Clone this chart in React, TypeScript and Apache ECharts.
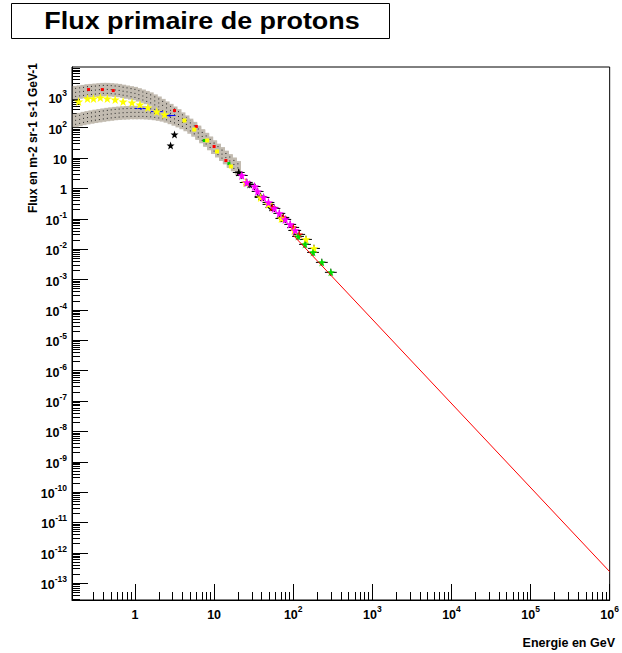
import React, { useEffect, useRef } from 'react';
import * as echarts from 'echarts';

const FONT = '"Liberation Sans", Arial, Helvetica, sans-serif';

// ---------- axes ----------
const xMin = 0.16;
const xMax = 1.00001e6;
const yMin = 2.8e-14;
const yMax = 1e4;
const xMajorTicks = [1, 10, 100, 1e3, 1e4, 1e5, 1e6];
const yMajorTicks = [1e-13, 1e-12, 1e-11, 1e-10, 1e-9, 1e-8, 1e-7, 1e-6, 1e-5, 1e-4, 1e-3, 1e-2, 1e-1, 1, 10, 100, 1e3];
const minorMultipliers = [2, 3, 4, 5, 6, 7, 8, 9];
const xDecades = [0.1, 1, 10, 100, 1e3, 1e4, 1e5];
const yDecades = [1e-14, 1e-13, 1e-12, 1e-11, 1e-10, 1e-9, 1e-8, 1e-7, 1e-6, 1e-5, 1e-4, 1e-3, 1e-2, 1e-1, 1, 10, 100, 1e3];
const xMinorStart = 0.25;

// ---------- data (GeV, m-2 sr-1 s-1 GeV-1) ----------
const bandEnergy = [0.178, 0.2, 0.224, 0.251, 0.282, 0.316, 0.355, 0.398, 0.447, 0.501, 0.562, 0.631, 0.708, 0.794, 0.891, 1.0, 1.12, 1.26, 1.41, 1.58, 1.78, 2.0, 2.24, 2.51, 2.82, 3.16, 3.55, 3.98, 4.47, 5.01, 5.62, 6.31, 7.08, 7.94, 8.91, 10.0, 11.2, 12.6, 14.1, 15.8, 17.8, 20.0];
const bandFluxHigh = [1439, 1494, 1552, 1636, 1674, 1713, 1766, 1806, 1806, 1766, 1725, 1674, 1575, 1494, 1406, 1334, 1208, 1094, 984, 879, 755, 644, 537, 444, 368, 302, 246, 193, 153, 120, 94, 71, 54, 41, 31, 23, 18, 13.8, 10.6, 8.1, 6.3, 4.8];
const bandFluxLow = [173, 186, 201, 213, 225, 237, 248, 260, 272, 282, 293, 300, 307, 311, 316, 316, 316, 316, 311, 305, 293, 280, 264, 243, 217, 193, 170, 148, 127, 105, 84, 66, 51, 39, 30, 22.7, 17.4, 13.3, 10.3, 7.9, 6.1, 4.7];

const yellowLowE = [0.194, 0.251, 0.299, 0.365, 0.447, 0.562, 0.708, 0.917, 1.155, 1.455, 1.884, 2.371];
const yellowLowF = [728, 914, 914, 985, 914, 847, 728, 675, 579, 462, 341, 272];
const yellowSmallE = [4.22, 5.62, 8.18, 10.9, 16.3];
const yellowSmallF = [173, 87, 38, 16.5, 5.3];
const yellowHighE = [25.1, 38.7, 48.7, 70.8, 103, 145, 183];
const yellowHighF = [1.57, 0.506, 0.298, 0.103, 0.0415, 0.021, 0.0106];

const magentaE = [22.4, 25.9, 32.5, 35.5, 42.2, 48.7, 57.9, 66.8, 79.4, 91.7, 106];
const magentaF = [2.68, 1.58, 1.16, 0.797, 0.506, 0.346, 0.22, 0.151, 0.0955, 0.0655, 0.0415];

const blackHighE = [20.5, 28.2, 38.7, 53.1, 72.9];
const blackHighF = [3.36, 1.35, 0.546, 0.237, 0.103];
const blackLowE = [2.82, 3.16];
const blackLowF = [26, 60];

const greenE = [115, 141, 178, 230, 299];
const greenF = [0.0264, 0.0144, 0.00785, 0.00368, 0.00173];
const greenSmallE = [7.5, 15.4];
const greenSmallF = [38, 6.6];

const redStarE = [54.6, 75, 100, 119];
const redStarF = [0.237, 0.111, 0.0521, 0.0307];
const redSmallE = [0.259, 0.387, 0.531, 3.16, 5.96, 10, 14.1];
const redSmallF = [1806, 1806, 1674, 368, 110, 24.1, 8.3];

const blueE = [1.19, 1.88, 2.74];
const blueF = [428, 341, 252];

const fitE = [100, 1e6];
const fitF = [0.0288, 2.4e-13];

// ---------- styles ----------
const BAND_ERR = Math.pow(10, 0.22);
const X_ERR = Math.pow(10, 0.075);
const Y_ERR = Math.pow(10, 0.12);
const GRAY = '#c2bbb0';
const STAR = 'path://M0,-10L2.35,-3.24L9.51,-3.09L3.8,1.24L5.88,8.09L0,4L-5.88,8.09L-3.8,1.24L-9.51,-3.09L-2.35,-3.24Z';

const zip = (xs: number[], ys: number[]) => xs.map((x, i) => [x, ys[i]]);

const minorTicks = (decades: number[], lo: number, hi: number) => {
  const out: number[] = [];
  decades.forEach((d) => minorMultipliers.forEach((m) => {
    const v = d * m;
    if (v > lo && v < hi) out.push(v);
  }));
  return out;
};

const fmt = (v: number) => {
  const n = Math.round(Math.log10(v));
  if (n === 0) return '{b|1}';
  if (n === 1) return '{b|10}';
  return '{b|10}{s|' + n + '}';
};

const labelRich = {
  b: { fontSize: 12.5, fontWeight: 'bold', fontFamily: FONT, color: '#000', lineHeight: 17, verticalAlign: 'bottom' },
  s: { fontSize: 8.5, fontWeight: 'bold', fontFamily: FONT, color: '#000', lineHeight: 9, verticalAlign: 'top' },
};

function bandSeries(name: string, E: number[], F: number[]) {
  return {
    type: 'custom', name, silent: true, z: 2,
    data: zip(E, F),
    renderItem: (_p: any, api: any) => {
      const e = api.value(0);
      const f = api.value(1);
      const hi = api.coord([e, f * BAND_ERR]);
      const lo = api.coord([e, f / BAND_ERR]);
      return {
        type: 'group',
        children: [
          { type: 'rect', shape: { x: hi[0] - 3, y: hi[1], width: 6, height: lo[1] - hi[1] }, style: { fill: GRAY } },
          { type: 'line', shape: { x1: hi[0], y1: hi[1] + 2, x2: hi[0], y2: lo[1] - 2 }, style: { stroke: '#222', lineWidth: 1, lineDash: [1, 3] } },
        ],
      };
    },
  };
}

function errorSeries(E: number[], F: number[], color: string, vertical: boolean) {
  return {
    type: 'custom', silent: true, z: 3,
    data: zip(E, F),
    renderItem: (_p: any, api: any) => {
      const e = api.value(0);
      const f = api.value(1);
      const l = api.coord([e / X_ERR, f]);
      const r = api.coord([e * X_ERR, f]);
      const t = api.coord([e, f * Y_ERR]);
      const b = api.coord([e, f / Y_ERR]);
      const children: any[] = [
        { type: 'line', shape: { x1: l[0], y1: l[1], x2: r[0], y2: r[1] }, style: { stroke: color, lineWidth: 1 } },
      ];
      if (vertical) children.push({ type: 'line', shape: { x1: t[0], y1: t[1], x2: b[0], y2: b[1] }, style: { stroke: color, lineWidth: 1 } });
      return { type: 'group', children };
    },
  };
}

function markers(E: number[], F: number[], color: string, size: number, symbol = STAR) {
  return {
    type: 'scatter', silent: true, z: 4,
    data: zip(E, F),
    symbol, symbolSize: size,
    itemStyle: { color, opacity: 1 },
  };
}

const baseAxis = (min: number, max: number) => ({
  type: 'log', logBase: 10, min, max,
  splitLine: { show: false },
  minorTick: { show: false },
  minorSplitLine: { show: false },
});

export default function App() {
  const ref = useRef<HTMLDivElement>(null);
  useEffect(() => {
    if (!ref.current) return;
    const chart = echarts.init(ref.current, null, { renderer: 'svg' });
    const xMinor = minorTicks(xDecades, xMinorStart, xMax);
    const yMinor = minorTicks(yDecades, yMin, yMax);
    chart.setOption({
      animation: false,
      backgroundColor: '#fff',
      grid: { left: 72, right: 7, top: 67, bottom: 53, show: true, borderColor: '#000', borderWidth: 1, backgroundColor: 'transparent' },
      xAxis: [
        {
          ...baseAxis(xMin, xMax), position: 'bottom',
          axisLine: { show: true, lineStyle: { color: '#000', width: 1 } },
          axisTick: { show: true, inside: true, length: 16, customValues: xMajorTicks, lineStyle: { color: '#000', width: 1 } },
          axisLabel: { show: true, customValues: xMajorTicks, formatter: fmt, rich: labelRich, fontWeight: 'bold', margin: 4, showMinLabel: true, showMaxLabel: true },
        },
        {
          ...baseAxis(xMin, xMax), position: 'bottom',
          axisLine: { show: false },
          axisTick: { show: true, inside: true, length: 8, customValues: xMinor, lineStyle: { color: '#000', width: 1 } },
          axisLabel: { show: false },
        },
      ],
      yAxis: [
        {
          ...baseAxis(yMin, yMax), position: 'left',
          axisLine: { show: true, lineStyle: { color: '#000', width: 1 } },
          axisTick: { show: true, inside: true, length: 16, customValues: yMajorTicks, lineStyle: { color: '#000', width: 1 } },
          axisLabel: { show: true, customValues: yMajorTicks, formatter: fmt, rich: labelRich, fontWeight: 'bold', margin: 5 },
        },
        {
          ...baseAxis(yMin, yMax), position: 'left',
          axisLine: { show: false },
          axisTick: { show: true, inside: true, length: 8, customValues: yMinor, lineStyle: { color: '#000', width: 1 } },
          axisLabel: { show: false },
        },
      ],
      series: [
        bandSeries('solar minimum', bandEnergy, bandFluxHigh),
        bandSeries('solar maximum', bandEnergy, bandFluxLow),
        errorSeries(blueE, blueF, '#0000ff', false),
        errorSeries(magentaE, magentaF, '#000', true),
        errorSeries(blackHighE, blackHighF, '#000', true),
        errorSeries(greenE, greenF, '#000', true),
        errorSeries(yellowHighE, yellowHighF, '#000', true),
        errorSeries(redStarE, redStarF, '#000', true),
        markers(redSmallE, redSmallF, '#ff0000', 3, 'rect'),
        markers(greenSmallE, greenSmallF, '#00cc00', 3, 'rect'),
        markers(yellowSmallE, yellowSmallF, '#ffff00', 4, 'rect'),
        markers(blueE, blueF, '#0000ff', 2, 'rect'),
        markers(yellowLowE, yellowLowF, '#ffff00', 9),
        markers(blackLowE, blackLowF, '#000', 8),
        markers(blackHighE, blackHighF, '#000', 8),
        markers(redStarE, redStarF, '#ff0000', 8),
        markers(yellowHighE, yellowHighF, '#ffff00', 9),
        markers(magentaE, magentaF, '#ff00ff', 9),
        markers(greenE, greenF, '#00dd00', 8),
        {
          type: 'line', silent: true, z: 5,
          data: zip(fitE, fitF),
          symbol: 'none',
          lineStyle: { color: '#ff0000', width: 1 },
        },
      ],
      graphic: [
        { type: 'rect', shape: { x: 11.5, y: 3.5, width: 378, height: 35 }, style: { fill: '#fff', stroke: '#000', lineWidth: 1 } },
        {
          type: 'text', x: 202, y: 21, scaleX: 1.17,
          style: { text: 'Flux primaire de protons', fontSize: 23, fontWeight: 'bold', fontFamily: FONT, fill: '#000', align: 'center', verticalAlign: 'middle' },
        },
        {
          type: 'text', x: 33, y: 63, rotation: Math.PI / 2,
          style: { text: 'Flux en m-2 sr-1 s-1 GeV-1', fontSize: 12, fontWeight: 'bold', fontFamily: FONT, fill: '#000', align: 'right', verticalAlign: 'middle' },
        },
        {
          type: 'text', x: 615, y: 643,
          style: { text: 'Energie en GeV', fontSize: 12.5, fontWeight: 'bold', fontFamily: FONT, fill: '#000', align: 'right', verticalAlign: 'middle' },
        },
      ],
    });
    return () => chart.dispose();
  }, []);
  return <div ref={ref} style={{ position: 'fixed', left: 0, top: 0, width: 622, height: 653 }} />;
}
